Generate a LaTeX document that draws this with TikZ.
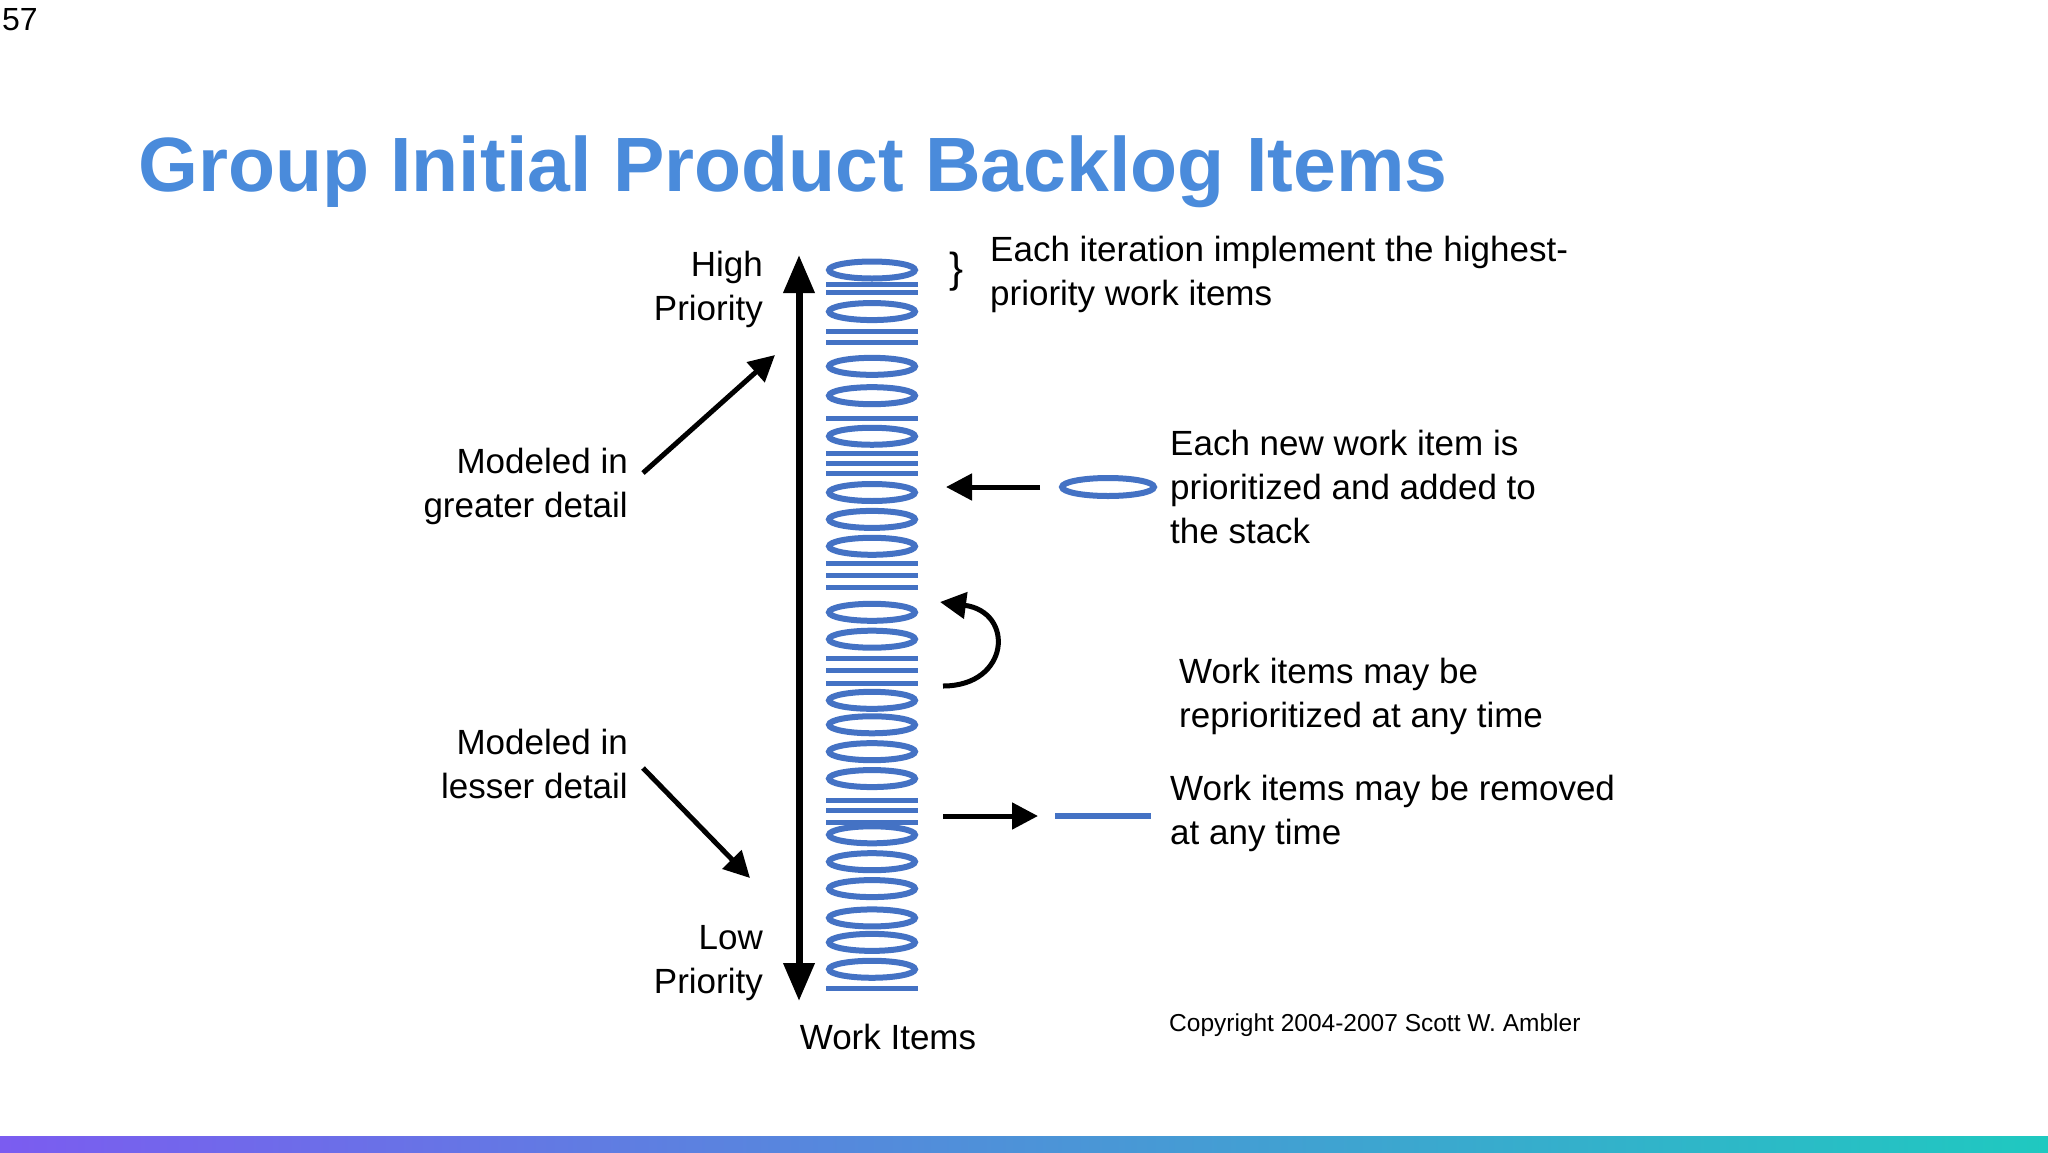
\documentclass[tikz,border=0pt]{standalone}
\usepackage{fontspec}
\setmainfont{Liberation Sans}
\usetikzlibrary{arrows.meta}
\definecolor{tblue}{HTML}{4A8BDB}
\definecolor{sblue}{HTML}{4472C4}
\definecolor{gA}{HTML}{7B5CF0}
\definecolor{gB}{HTML}{1FC9C0}
\begin{document}
\begin{tikzpicture}[x=1pt,y=-1pt,
  lbl/.style={font=\fontsize{35}{44}\selectfont,align=left,inner sep=0pt},
  lblr/.style={lbl,align=right},
  arr/.style={line width=5pt,-{Triangle[length=26pt,width=26pt]}},
  item/.style={draw=sblue,line width=5pt}]
\useasboundingbox (0,0) rectangle (2048,1152);
\fill[white] (0,0) rectangle (2048,1152);
\shade[left color=gA,right color=gB] (0,1136) rectangle (2048,1152);
\node[anchor=north west,inner sep=0pt,font=\fontsize{32}{36}\selectfont] (pg) at (2,8) {57};
\node[anchor=west,inner sep=0pt,text=tblue,font=\fontsize{77}{80}\selectfont\bfseries] (title) at (138,172) {Group Initial Product Backlog Items};
% stack
\foreach \z in {65,150,262,322,405,520,575,630,765,820,945,995,1050,1105,1220,1275,1330,1390,1440,1495}{
  \pgfmathsetmacro\yy{270+(\z-65)*0.489}
  \draw[item,line width=6pt] (872,\yy) ellipse (43 and 8.5);}
\foreach \z in {95,112,190,213,368,440,460,482,665,690,715,860,885,910,1150,1170,1195,1535}{
  \pgfmathsetmacro\yy{270+(\z-65)*0.489}
  \draw[item] (826,\yy) -- (918,\yy);}
% priority axis
\coordinate (top) at (799,255);
\coordinate (bot) at (799,1001);
\draw[line width=7pt,{Triangle[length=38pt,width=30pt]}-{Triangle[length=38pt,width=30pt]}] (top) -- (bot);
\node[lblr,anchor=east] (hp) at (763,289) {High\\Priority};
\node[lblr,anchor=east] (lp) at (763,963) {Low\\Priority};
\node[lbl,anchor=center] (wi) at (888,1037) {Work Items};
\node[lblr,anchor=east] (mg) at (628,486) {Modeled in\\greater detail};
\node[lblr,anchor=east] (ml) at (628,764) {Modeled in\\lesser detail};
\coordinate (a1s) at (643,473); \coordinate (a1e) at (775,355);
\draw[arr] (a1s) -- (a1e);
\coordinate (a2s) at (643,768); \coordinate (a2e) at (750,878);
\draw[arr] (a2s) -- (a2e);
% top right
\node[lbl,anchor=center,font=\fontsize{42}{44}\selectfont] (br) at (957,272) {\}};
\node[lbl,anchor=west] (t1) at (990,274) {Each iteration implement the highest-\\priority work items};
% new item
\draw[item,line width=6pt] (1108,487) ellipse (46 and 9) node (ne) {};
\coordinate (n1) at (1040,487); \coordinate (n2) at (946,487);
\draw[arr] (n1) -- (n2);
\node[lbl,anchor=west] (t2) at (1170,487) {Each new work item is\\prioritized and added to\\the stack};
% reprioritize
\coordinate (r1) at (943,686); \coordinate (r2) at (940,602);
\draw[arr] (r1) .. controls (1010,686) and (1015,612) .. (r2);
\node[lbl,anchor=west] (t3) at (1179,696) {Work items may be\\reprioritized at any time};
% removed
\coordinate (m1) at (943,816); \coordinate (m2) at (1038,816);
\draw[arr] (m1) -- (m2);
\draw[item,line width=6pt] (1055,816) -- (1151,816);
\node[lbl,anchor=west] (t4) at (1170,813) {Work items may be removed\\at any time};
\node[inner sep=0pt,anchor=west,font=\fontsize{24.5}{26}\selectfont] (cp) at (1169,1025) {Copyright 2004-2007 Scott W. Ambler};
\end{tikzpicture}
\end{document}
